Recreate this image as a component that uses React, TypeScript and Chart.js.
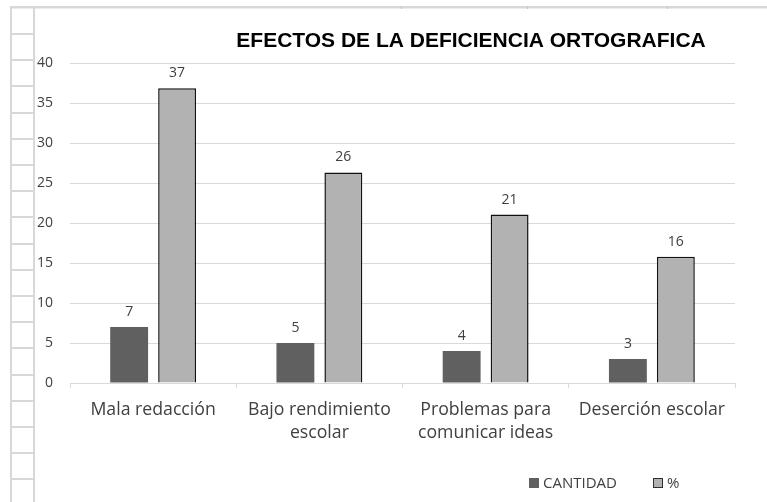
import React, { useEffect, useRef } from "react";
import { Chart, registerables } from "chart.js";

Chart.register(...registerables);

// ---- Data ----
const categories: string[][] = [
  ["Mala redacción"],
  ["Bajo rendimiento", "escolar"],
  ["Problemas para", "comunicar ideas"],
  ["Deserción escolar"],
];
const cantidad = [7, 5, 4, 3];
const porcentaje = [36.84, 26.32, 21.05, 15.79];
const seriesNames = ["CANTIDAD", "%"];
const yMin = 0;
const yMax = 40;
const yStep = 5;
const chartTitle = "EFECTOS DE LA DEFICIENCIA ORTOGRAFICA";

// ---- Styles ----
const DARK = "#606060";
const LIGHT = "#b2b2b2";
const TEXT = "#404040";
const GRID = "#d9d9d9";
const SHEET = "#d8d8d8";
const FONT = "'Open Sans', sans-serif";

const CW = 732;
const CH = 493;

const valueLabels = {
  id: "valueLabels",
  afterDatasetsDraw(chart: any) {
    const ctx = chart.ctx;
    ctx.save();
    ctx.font = `14px ${FONT}`;
    ctx.fillStyle = TEXT;
    ctx.textAlign = "center";
    ctx.textBaseline = "alphabetic";
    chart.data.datasets.forEach((ds: any, i: number) => {
      const meta = chart.getDatasetMeta(i);
      meta.data.forEach((el: any, j: number) => {
        ctx.fillText(String(Math.round(ds.data[j])), el.x, el.y - 11);
      });
    });
    ctx.restore();
  },
};

const titleAndLegend = {
  id: "titleAndLegend",
  afterDraw(chart: any) {
    const ctx = chart.ctx;
    ctx.save();
    // title
    ctx.font = `bold 21px 'Liberation Sans', Arial, sans-serif`;
    ctx.fillStyle = "#000000";
    ctx.textAlign = "center";
    ctx.textBaseline = "alphabetic";
    ctx.fillText(chartTitle, 436, 38);

    // legend
    const items = chart.data.datasets.map((ds: any) => ({
      label: ds.label,
      fill: ds.backgroundColor,
      border: ds.borderWidth ? ds.borderColor : null,
    }));
    const xs = [494, 618];
    ctx.font = `15px ${FONT}`;
    ctx.textAlign = "left";
    items.forEach((it: any, i: number) => {
      const x = xs[i];
      const y = 469;
      ctx.fillStyle = it.fill;
      ctx.fillRect(x, y, 10, 10);
      if (it.border) {
        ctx.strokeStyle = "#303030";
        ctx.lineWidth = 1;
        ctx.strokeRect(x + 0.5, y + 0.5, 9, 9);
      }
      ctx.fillStyle = TEXT;
      ctx.fillText(it.label, x + 14, y + 10);
    });
    ctx.restore();
  },
};

export default function App() {
  const ref = useRef<HTMLCanvasElement | null>(null);

  useEffect(() => {
    if (!ref.current) return;
    const chart = new Chart(ref.current, {
      type: "bar",
      data: {
        labels: categories,
        datasets: [
          {
            label: seriesNames[0],
            data: cantidad,
            backgroundColor: DARK,
            borderWidth: 0,
            barPercentage: 0.79,
            categoryPercentage: 0.577,
          },
          {
            label: seriesNames[1],
            data: porcentaje,
            backgroundColor: LIGHT,
            borderColor: "#111111",
            borderWidth: 1.5,
            barPercentage: 0.79,
            categoryPercentage: 0.577,
          },
        ],
      },
      options: {
        responsive: false,
        animation: false,
        devicePixelRatio: 1,
        layout: { padding: { top: 54, right: 32, left: 0, bottom: 0 } },
        plugins: {
          legend: { display: false },
          title: { display: false },
          tooltip: { enabled: false },
        },
        scales: {
          x: {
            grid: {
              offset: true,
              drawOnChartArea: false,
              drawTicks: true,
              tickLength: 5,
              color: GRID,
            },
            border: { display: true, color: GRID, width: 1 },
            ticks: {
              color: TEXT,
              font: { family: FONT, size: 17.7, lineHeight: 1.3 },
              padding: 10,
              maxRotation: 0,
              autoSkip: false,
            },
            afterFit(scale: any) {
              scale.height = 119;
            },
          },
          y: {
            min: yMin,
            max: yMax,
            ticks: {
              stepSize: yStep,
              color: TEXT,
              font: { family: FONT, size: 14 },
              padding: 17,
            },
            grid: { color: GRID, drawTicks: false },
            border: { display: false },
            afterFit(scale: any) {
              scale.width = 35;
            },
          },
        },
      },
      plugins: [valueLabels, titleAndLegend],
    });
    return () => chart.destroy();
  }, []);

  const rows: number[] = [];
  for (let y = 33; y < 502; y += 26.2) rows.push(Math.round(y));

  return (
    <div
      style={{
        position: "fixed",
        left: 0,
        top: 0,
        width: 767,
        height: 502,
        background: "#ffffff",
        overflow: "hidden",
      }}
    >
      <div style={{ position: "absolute", left: 10, top: 6, width: 757, height: 2, background: SHEET }} />
      <div style={{ position: "absolute", left: 10, top: 8, width: 757, height: 1, background: "#ececec" }} />
      {[401, 527, 667].map((x) => (
        <div key={x} style={{ position: "absolute", left: x, top: 6, width: 1, height: 3, background: "#c4c4c4" }} />
      ))}
      <div style={{ position: "absolute", left: 10, top: 6, width: 2, height: 496, background: SHEET }} />
      <div style={{ position: "absolute", left: 33, top: 6, width: 2, height: 496, background: SHEET }} />
      {rows.map((y) => (
        <div key={y} style={{ position: "absolute", left: 12, top: y, width: 21, height: 2, background: SHEET }} />
      ))}
      <canvas
        ref={ref}
        width={CW}
        height={CH}
        style={{ position: "absolute", left: 35, top: 9, width: CW, height: CH }}
      />
    </div>
  );
}
